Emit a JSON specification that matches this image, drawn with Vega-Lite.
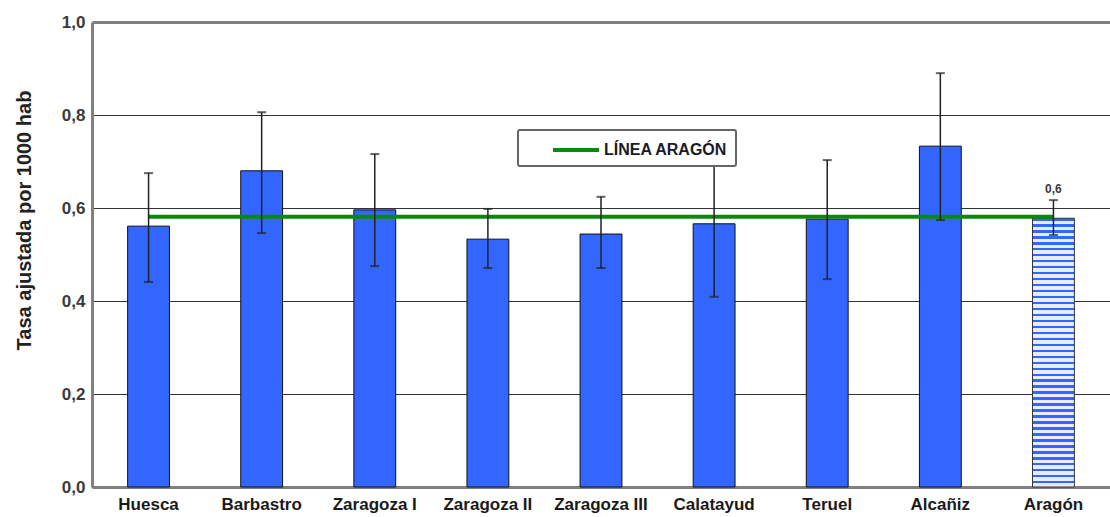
{
  "$schema": "https://vega.github.io/schema/vega-lite/v6.json",
  "autosize": "none",
  "width": 1018,
  "height": 465,
  "padding": {"left": 92, "top": 22, "right": 0, "bottom": 30},
  "background": "white",
  "config": {
    "view": {"stroke": null},
    "font": "Liberation Sans",
    "locale": {"number": {"decimal": ",", "thousands": ".", "grouping": [3], "currency": ["", " €"]}},
    "axisY": {
      "labelFontSize": 17,
      "labelFontWeight": "bold",
      "labelColor": "#3a3a3a",
      "labelPadding": 7,
      "titleFontSize": 20,
      "titleFontWeight": "bold",
      "titleColor": "#222"
    },
    "axisX": {
      "labelFontSize": 17,
      "labelFontWeight": "bold",
      "labelColor": "#1a1a1a",
      "labelPadding": 9
    }
  },
  "data": {
    "values": [
      {"region": "Huesca", "tasa": 0.561, "lo": 0.441, "hi": 0.675, "linea": 0.581, "tipo": "area"},
      {"region": "Barbastro", "tasa": 0.680, "lo": 0.546, "hi": 0.806, "linea": 0.581, "tipo": "area"},
      {"region": "Zaragoza I", "tasa": 0.596, "lo": 0.475, "hi": 0.716, "linea": 0.581, "tipo": "area"},
      {"region": "Zaragoza II", "tasa": 0.533, "lo": 0.471, "hi": 0.598, "linea": 0.581, "tipo": "area"},
      {"region": "Zaragoza III", "tasa": 0.544, "lo": 0.471, "hi": 0.624, "linea": 0.581, "tipo": "area"},
      {"region": "Calatayud", "tasa": 0.566, "lo": 0.409, "hi": 0.692, "linea": 0.581, "tipo": "area"},
      {"region": "Teruel", "tasa": 0.576, "lo": 0.447, "hi": 0.703, "linea": 0.581, "tipo": "area"},
      {"region": "Alcañiz", "tasa": 0.733, "lo": 0.574, "hi": 0.890, "linea": 0.581, "tipo": "area"},
      {"region": "Aragón", "tasa": 0.578, "lo": 0.542, "hi": 0.617, "linea": 0.581, "tipo": "total"}
    ]
  },
  "encoding": {
    "x": {
      "field": "region",
      "type": "nominal",
      "sort": null,
      "scale": {"paddingInner": 0.63, "paddingOuter": 0.315},
      "axis": {
        "title": null,
        "labelAngle": 0,
        "ticks": false,
        "domainColor": "#808080",
        "domainWidth": 3
      }
    }
  },
  "layer": [
    {
      "transform": [{"filter": "datum.tipo == 'area'"}],
      "mark": {"type": "bar", "fill": "#3366ff", "stroke": "#111", "strokeWidth": 1},
      "encoding": {
        "y": {
          "field": "tasa",
          "type": "quantitative",
          "scale": {"domain": [0, 1], "nice": false},
          "axis": {
            "title": "Tasa ajustada por 1000 hab",
            "titleX": -58,
            "titleY": 198,
            "values": [0, 0.2, 0.4, 0.6, 0.8, 1],
            "format": ".1f",
            "ticks": false,
            "domainColor": "#808080",
            "domainWidth": 3,
            "grid": true,
            "gridColor": {"condition": {"test": "datum.value == 1", "value": "#808080"}, "value": "#333"},
            "gridWidth": {"condition": {"test": "datum.value == 1", "value": 3}, "value": 1},
            "gridOpacity": 1
          }
        }
      }
    },
    {
      "transform": [{"filter": "datum.tipo == 'total'"}],
      "mark": {
        "type": "bar",
        "stroke": "#333",
        "strokeWidth": 1,
        "fill": {
          "gradient": "linear", "x1": 0, "y1": 0, "x2": 0, "y2": 1,
          "stops": [
            {"offset": 0, "color": "#3366ff"}, {"offset": 0.0089, "color": "#3366ff"}, {"offset": 0.0089, "color": "#e6ecff"}, {"offset": 0.0222, "color": "#e6ecff"},
            {"offset": 0.0222, "color": "#3366ff"}, {"offset": 0.0311, "color": "#3366ff"}, {"offset": 0.0311, "color": "#e6ecff"}, {"offset": 0.0444, "color": "#e6ecff"},
            {"offset": 0.0444, "color": "#3366ff"}, {"offset": 0.0533, "color": "#3366ff"}, {"offset": 0.0533, "color": "#e6ecff"}, {"offset": 0.0667, "color": "#e6ecff"},
            {"offset": 0.0667, "color": "#3366ff"}, {"offset": 0.0756, "color": "#3366ff"}, {"offset": 0.0756, "color": "#e6ecff"}, {"offset": 0.0889, "color": "#e6ecff"},
            {"offset": 0.0889, "color": "#3366ff"}, {"offset": 0.0978, "color": "#3366ff"}, {"offset": 0.0978, "color": "#e6ecff"}, {"offset": 0.1111, "color": "#e6ecff"},
            {"offset": 0.1111, "color": "#3366ff"}, {"offset": 0.12, "color": "#3366ff"}, {"offset": 0.12, "color": "#e6ecff"}, {"offset": 0.1333, "color": "#e6ecff"},
            {"offset": 0.1333, "color": "#3366ff"}, {"offset": 0.1422, "color": "#3366ff"}, {"offset": 0.1422, "color": "#e6ecff"}, {"offset": 0.1556, "color": "#e6ecff"},
            {"offset": 0.1556, "color": "#3366ff"}, {"offset": 0.1644, "color": "#3366ff"}, {"offset": 0.1644, "color": "#e6ecff"}, {"offset": 0.1778, "color": "#e6ecff"},
            {"offset": 0.1778, "color": "#3366ff"}, {"offset": 0.1867, "color": "#3366ff"}, {"offset": 0.1867, "color": "#e6ecff"}, {"offset": 0.2, "color": "#e6ecff"},
            {"offset": 0.2, "color": "#3366ff"}, {"offset": 0.2089, "color": "#3366ff"}, {"offset": 0.2089, "color": "#e6ecff"}, {"offset": 0.2222, "color": "#e6ecff"},
            {"offset": 0.2222, "color": "#3366ff"}, {"offset": 0.2311, "color": "#3366ff"}, {"offset": 0.2311, "color": "#e6ecff"}, {"offset": 0.2444, "color": "#e6ecff"},
            {"offset": 0.2444, "color": "#3366ff"}, {"offset": 0.2533, "color": "#3366ff"}, {"offset": 0.2533, "color": "#e6ecff"}, {"offset": 0.2667, "color": "#e6ecff"},
            {"offset": 0.2667, "color": "#3366ff"}, {"offset": 0.2756, "color": "#3366ff"}, {"offset": 0.2756, "color": "#e6ecff"}, {"offset": 0.2889, "color": "#e6ecff"},
            {"offset": 0.2889, "color": "#3366ff"}, {"offset": 0.2978, "color": "#3366ff"}, {"offset": 0.2978, "color": "#e6ecff"}, {"offset": 0.3111, "color": "#e6ecff"},
            {"offset": 0.3111, "color": "#3366ff"}, {"offset": 0.32, "color": "#3366ff"}, {"offset": 0.32, "color": "#e6ecff"}, {"offset": 0.3333, "color": "#e6ecff"},
            {"offset": 0.3333, "color": "#3366ff"}, {"offset": 0.3422, "color": "#3366ff"}, {"offset": 0.3422, "color": "#e6ecff"}, {"offset": 0.3556, "color": "#e6ecff"},
            {"offset": 0.3556, "color": "#3366ff"}, {"offset": 0.3644, "color": "#3366ff"}, {"offset": 0.3644, "color": "#e6ecff"}, {"offset": 0.3778, "color": "#e6ecff"},
            {"offset": 0.3778, "color": "#3366ff"}, {"offset": 0.3867, "color": "#3366ff"}, {"offset": 0.3867, "color": "#e6ecff"}, {"offset": 0.4, "color": "#e6ecff"},
            {"offset": 0.4, "color": "#3366ff"}, {"offset": 0.4089, "color": "#3366ff"}, {"offset": 0.4089, "color": "#e6ecff"}, {"offset": 0.4222, "color": "#e6ecff"},
            {"offset": 0.4222, "color": "#3366ff"}, {"offset": 0.4311, "color": "#3366ff"}, {"offset": 0.4311, "color": "#e6ecff"}, {"offset": 0.4444, "color": "#e6ecff"},
            {"offset": 0.4444, "color": "#3366ff"}, {"offset": 0.4533, "color": "#3366ff"}, {"offset": 0.4533, "color": "#e6ecff"}, {"offset": 0.4667, "color": "#e6ecff"},
            {"offset": 0.4667, "color": "#3366ff"}, {"offset": 0.4756, "color": "#3366ff"}, {"offset": 0.4756, "color": "#e6ecff"}, {"offset": 0.4889, "color": "#e6ecff"},
            {"offset": 0.4889, "color": "#3366ff"}, {"offset": 0.4978, "color": "#3366ff"}, {"offset": 0.4978, "color": "#e6ecff"}, {"offset": 0.5111, "color": "#e6ecff"},
            {"offset": 0.5111, "color": "#3366ff"}, {"offset": 0.52, "color": "#3366ff"}, {"offset": 0.52, "color": "#e6ecff"}, {"offset": 0.5333, "color": "#e6ecff"},
            {"offset": 0.5333, "color": "#3366ff"}, {"offset": 0.5422, "color": "#3366ff"}, {"offset": 0.5422, "color": "#e6ecff"}, {"offset": 0.5556, "color": "#e6ecff"},
            {"offset": 0.5556, "color": "#3366ff"}, {"offset": 0.5644, "color": "#3366ff"}, {"offset": 0.5644, "color": "#e6ecff"}, {"offset": 0.5778, "color": "#e6ecff"},
            {"offset": 0.5778, "color": "#3366ff"}, {"offset": 0.5867, "color": "#3366ff"}, {"offset": 0.5867, "color": "#e6ecff"}, {"offset": 0.6, "color": "#e6ecff"},
            {"offset": 0.6, "color": "#3366ff"}, {"offset": 0.6089, "color": "#3366ff"}, {"offset": 0.6089, "color": "#e6ecff"}, {"offset": 0.6222, "color": "#e6ecff"},
            {"offset": 0.6222, "color": "#3366ff"}, {"offset": 0.6311, "color": "#3366ff"}, {"offset": 0.6311, "color": "#e6ecff"}, {"offset": 0.6444, "color": "#e6ecff"},
            {"offset": 0.6444, "color": "#3366ff"}, {"offset": 0.6533, "color": "#3366ff"}, {"offset": 0.6533, "color": "#e6ecff"}, {"offset": 0.6667, "color": "#e6ecff"},
            {"offset": 0.6667, "color": "#3366ff"}, {"offset": 0.6756, "color": "#3366ff"}, {"offset": 0.6756, "color": "#e6ecff"}, {"offset": 0.6889, "color": "#e6ecff"},
            {"offset": 0.6889, "color": "#3366ff"}, {"offset": 0.6978, "color": "#3366ff"}, {"offset": 0.6978, "color": "#e6ecff"}, {"offset": 0.7111, "color": "#e6ecff"},
            {"offset": 0.7111, "color": "#3366ff"}, {"offset": 0.72, "color": "#3366ff"}, {"offset": 0.72, "color": "#e6ecff"}, {"offset": 0.7333, "color": "#e6ecff"},
            {"offset": 0.7333, "color": "#3366ff"}, {"offset": 0.7422, "color": "#3366ff"}, {"offset": 0.7422, "color": "#e6ecff"}, {"offset": 0.7556, "color": "#e6ecff"},
            {"offset": 0.7556, "color": "#3366ff"}, {"offset": 0.7644, "color": "#3366ff"}, {"offset": 0.7644, "color": "#e6ecff"}, {"offset": 0.7778, "color": "#e6ecff"},
            {"offset": 0.7778, "color": "#3366ff"}, {"offset": 0.7867, "color": "#3366ff"}, {"offset": 0.7867, "color": "#e6ecff"}, {"offset": 0.8, "color": "#e6ecff"},
            {"offset": 0.8, "color": "#3366ff"}, {"offset": 0.8089, "color": "#3366ff"}, {"offset": 0.8089, "color": "#e6ecff"}, {"offset": 0.8222, "color": "#e6ecff"},
            {"offset": 0.8222, "color": "#3366ff"}, {"offset": 0.8311, "color": "#3366ff"}, {"offset": 0.8311, "color": "#e6ecff"}, {"offset": 0.8444, "color": "#e6ecff"},
            {"offset": 0.8444, "color": "#3366ff"}, {"offset": 0.8533, "color": "#3366ff"}, {"offset": 0.8533, "color": "#e6ecff"}, {"offset": 0.8667, "color": "#e6ecff"},
            {"offset": 0.8667, "color": "#3366ff"}, {"offset": 0.8756, "color": "#3366ff"}, {"offset": 0.8756, "color": "#e6ecff"}, {"offset": 0.8889, "color": "#e6ecff"},
            {"offset": 0.8889, "color": "#3366ff"}, {"offset": 0.8978, "color": "#3366ff"}, {"offset": 0.8978, "color": "#e6ecff"}, {"offset": 0.9111, "color": "#e6ecff"},
            {"offset": 0.9111, "color": "#3366ff"}, {"offset": 0.92, "color": "#3366ff"}, {"offset": 0.92, "color": "#e6ecff"}, {"offset": 0.9333, "color": "#e6ecff"},
            {"offset": 0.9333, "color": "#3366ff"}, {"offset": 0.9422, "color": "#3366ff"}, {"offset": 0.9422, "color": "#e6ecff"}, {"offset": 0.9556, "color": "#e6ecff"},
            {"offset": 0.9556, "color": "#3366ff"}, {"offset": 0.9644, "color": "#3366ff"}, {"offset": 0.9644, "color": "#e6ecff"}, {"offset": 0.9778, "color": "#e6ecff"},
            {"offset": 0.9778, "color": "#3366ff"}, {"offset": 0.9867, "color": "#3366ff"}, {"offset": 0.9867, "color": "#e6ecff"}, {"offset": 1, "color": "#e6ecff"}
          ]
        }
      },
      "encoding": {
        "y": {"field": "tasa", "type": "quantitative"}
      }
    },
    {
      "mark": {"type": "line", "strokeWidth": 4},
      "encoding": {
        "y": {"field": "linea", "type": "quantitative"},
        "color": {
          "datum": "LÍNEA ARAGÓN",
          "type": "nominal",
          "scale": {"range": ["#0a8a0a"]},
          "legend": {
            "title": null,
            "orient": "none",
            "legendX": 426,
            "legendY": 108,
            "fillColor": "white",
            "strokeColor": "#666",
            "cornerRadius": 2,
            "padding": 8,
            "symbolType": "M-2.3,0H2.3",
            "symbolStrokeWidth": 4,
            "symbolSize": 400,
            "symbolOffset": 38,
            "labelOffset": 16,
            "labelFontSize": 16,
            "labelFontWeight": "bold",
            "labelColor": "#1a1a2a",
            "encode": {"legend": {"update": {"strokeWidth": {"value": 2}}}}
          }
        }
      }
    },
    {
      "mark": {"type": "rule", "color": "#222", "strokeWidth": 1.5},
      "encoding": {
        "y": {"field": "lo", "type": "quantitative"},
        "y2": {"field": "hi"}
      }
    },
    {
      "mark": {"type": "tick", "color": "#222", "size": 9, "thickness": 2},
      "encoding": {
        "y": {"field": "hi", "type": "quantitative"}
      }
    },
    {
      "mark": {"type": "tick", "color": "#222", "size": 9, "thickness": 2},
      "encoding": {
        "y": {"field": "lo", "type": "quantitative"}
      }
    },
    {
      "transform": [{"filter": "datum.tipo == 'total'"}],
      "mark": {"type": "text", "baseline": "bottom", "dy": -4, "fontSize": 12, "fontWeight": "bold", "color": "#3a3a3a"},
      "encoding": {
        "y": {"field": "hi", "type": "quantitative"},
        "text": {"field": "tasa", "type": "quantitative", "format": ".1f"}
      }
    }
  ]
}
